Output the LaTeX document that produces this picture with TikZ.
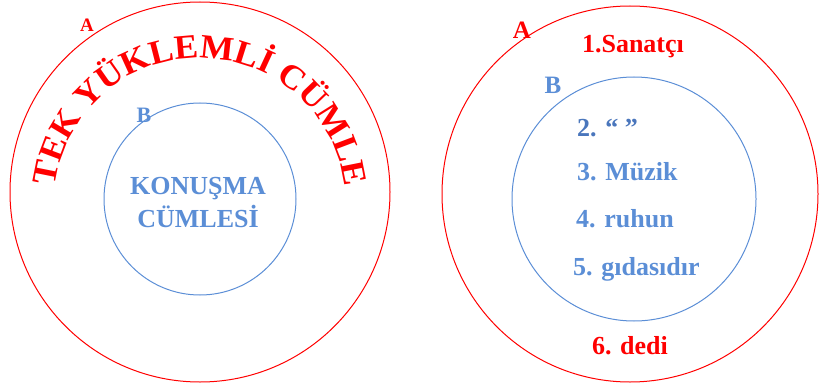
\documentclass[tikz,border=0pt]{standalone}
\usepackage{fontspec}
\setmainfont{Liberation Serif}
\newfontfamily\arcfont[FakeStretch=1.05]{Liberation Serif}
\usetikzlibrary{decorations.text}
\definecolor{ared}{HTML}{FF0000}
\definecolor{bblue}{HTML}{5B8ED6}
\definecolor{dblue}{HTML}{4A76BC}
\begin{document}
\begin{tikzpicture}[x=1pt,y=1pt,
  outerc/.style={circle, draw=ared, line width=1pt, inner sep=0pt},
  innerc/.style={circle, draw=bblue, line width=1pt, inner sep=0pt},
  lbl/.style={font=\bfseries\fontsize{#1}{#1}\selectfont, inner sep=0pt},
  item/.style={font=\bfseries\fontsize{26}{26}\selectfont, inner sep=0pt, anchor=base west, text=bblue}]
\useasboundingbox (0,0) rectangle (819,389);
% left diagram
\node[outerc, minimum size=380pt] (LA) at (200,197) {};
\node[innerc, minimum size=192pt] (LB) at (200,190) {};
\node[lbl=19, text=ared] (LAl) at (87,364) {A};
\node[lbl=22, text=bblue] (LBl) at (144,274) {B};
\node[lbl=26, text=bblue, anchor=base] (k1) at (198,195) {KONUŞMA};
\node[lbl=26, text=bblue, anchor=base] (k2) at (198,162) {CÜMLESİ};
\coordinate (arcc) at (200,185);
\path[decorate, decoration={text along path, text align=center, text color=ared,
  text={|\arcfont\bfseries\fontsize{34}{34}\selectfont|TEK YÜKLEMLİ CÜMLE}}]
  (arcc) ++(179:146) arc[start angle=179, end angle=1, radius=146];
% right diagram
\node[outerc, minimum size=376pt] (RA) at (630,195) {};
\node[innerc, minimum size=244pt] (RB) at (634,190) {};
\node[lbl=25, text=ared] (RAl) at (522,359) {A};
\node[lbl=25, text=bblue] (RBl) at (553,304) {B};
\node[lbl=26, text=ared, anchor=base] (s1) at (633,336) {1.Sanatçı};
\node[item, text=dblue] (s2) at (577,253) {2. “ ”};
\node[item] (s3) at (577,209) {3. Müzik};
\node[item] (s4) at (576,162) {4. ruhun};
\node[item] (s5) at (573,114) {5. gıdasıdır};
\node[lbl=26, text=ared, anchor=base] (s6) at (630,35) {6. dedi};
\end{tikzpicture}
\end{document}
